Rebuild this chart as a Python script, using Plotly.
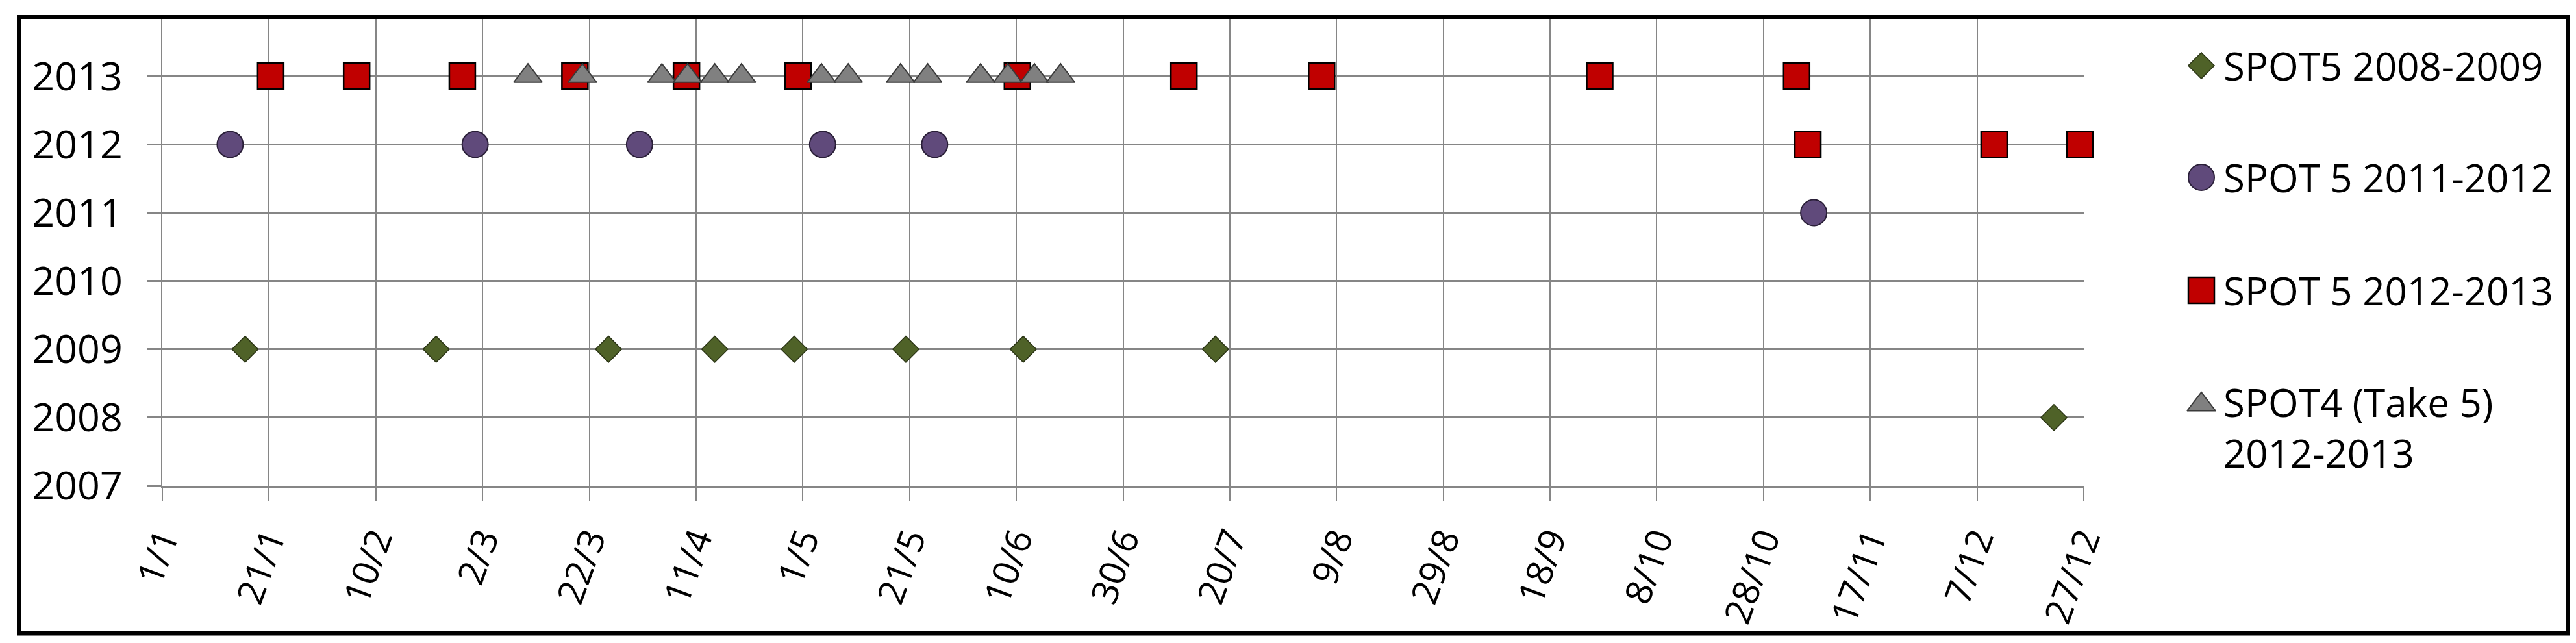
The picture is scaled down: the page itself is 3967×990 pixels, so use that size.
"""
Acquisition dates of SPOT images, by day of year and by year.
"""

import plotly.graph_objs as go

# Day-of-year ticks (non leap year, every 20 days)
tick_days = [1, 21, 41, 61, 81, 101, 121, 141, 161, 181, 201, 221, 241, 261, 281, 301, 321, 341, 361]
tick_labels = ["1/1", "21/1", "10/2", "2/3", "22/3", "11/4", "1/5", "21/5", "10/6", "30/6",
               "20/7", "9/8", "29/8", "18/9", "8/10", "28/10", "17/11", "7/12", "27/12"]
year_ticks = [2007, 2008, 2009, 2010, 2011, 2012, 2013]

# Series: day of year and year of each acquisition
spot5_0809_day = [16.5, 52.3, 84.6, 104.5, 119.4, 140.3, 162.3, 198.3, 355.4]
spot5_0809_year = [2009, 2009, 2009, 2009, 2009, 2009, 2009, 2009, 2008]

spot5_1112_day = [13.7, 59.6, 90.4, 124.7, 145.7, 310.4]
spot5_1112_year = [2012, 2012, 2012, 2012, 2012, 2011]

spot5_1213_day = [21.3, 37.4, 57.2, 78.3, 99.2, 120.1, 161.2, 192.4, 218.2, 270.3, 307.2,
                  309.3, 344.2, 360.3]
spot5_1213_year = [2013, 2013, 2013, 2013, 2013, 2013, 2013, 2013, 2013, 2013, 2013,
                   2012, 2012, 2012]

spot4_day = [69.5, 79.7, 94.6, 99.4, 104.5, 109.5, 124.5, 129.5, 139.3, 144.4, 154.3,
             159.4, 164.4, 169.3]
spot4_year = [2013, 2013, 2013, 2013, 2013, 2013, 2013, 2013, 2013, 2013, 2013,
              2013, 2013, 2013]

series_names = ["SPOT5 2008-2009", "SPOT 5 2011-2012", "SPOT 5 2012-2013",
                "SPOT4 (Take 5)<br>2012-2013"]

W, H = 3967, 990
FONT = "Open Sans"
GRID = "#868686"

styles = [
    dict(symbol="diamond", size=31, color="#4F6228", line=dict(color="#2b3515", width=1.5)),
    dict(symbol="circle", size=40, color="#604A7B", line=dict(color="#2a1f38", width=2)),
    dict(symbol="square", size=40, color="#C00000", line=dict(color="#000000", width=2.5)),
    dict(symbol="triangle-up", size=38, color="#808080", line=dict(color="#3a3a3a", width=2)),
]

data = [
    (spot5_0809_day, spot5_0809_year),
    (spot5_1112_day, spot5_1112_year),
    (spot5_1213_day, spot5_1213_year),
    (spot4_day, spot4_year),
]

fig = go.Figure()

for (days, years), name, st in zip(data, series_names, styles):
    fig.add_trace(go.Scatter(
        x=days, y=years, mode="markers", name=name, showlegend=False,
        marker=st, cliponaxis=False,
    ))

# Hand-made legend (plotly caps legend symbols at 16px)
leg_x = 3382
leg_y = [93, 265, 439, 615]
text_y = [93, 265, 439, 650]
for st, ly in zip(styles, leg_y):
    fig.add_trace(go.Scatter(
        x=[leg_x], y=[ly], mode="markers", marker=st, showlegend=False,
        xaxis="x2", yaxis="y2", hoverinfo="skip",
    ))
for name, ty in zip(series_names, text_y):
    fig.add_annotation(
        x=3414, y=ty, xref="x2", yref="y2", text=name, showarrow=False,
        xanchor="left", yanchor="middle", align="left",
        font=dict(family=FONT, size=60, color="black"),
    )

x0, x1 = 242 / W, 3201 / W
y0, y1 = 1 - 740 / H, 1 - 22 / H

fig.update_layout(
    width=W, height=H,
    margin=dict(l=0, r=0, t=0, b=0),
    paper_bgcolor="white", plot_bgcolor="rgba(0,0,0,0)",
    font=dict(family=FONT, size=60, color="black"),
    xaxis=dict(
        domain=[x0, x1], range=[1, 361], tickvals=tick_days, ticktext=tick_labels,
        tickangle=-70, showgrid=True, gridcolor=GRID, gridwidth=2,
        showline=True, linecolor=GRID, linewidth=2.5,
        ticks="outside", ticklen=20, tickwidth=2, tickcolor=GRID,
        tickfont=dict(family=FONT, size=56), zeroline=False, automargin=False,
        ticklabelstandoff=5,
    ),
    yaxis=dict(
        domain=[y0, y1], range=[2007, 2013.83], tickvals=year_ticks,
        showgrid=True, gridcolor=GRID, gridwidth=2.5,
        showline=True, linecolor=GRID, linewidth=2,
        ticks="outside", ticklen=21, tickwidth=2.5, tickcolor=GRID,
        tickfont=dict(family=FONT, size=61), zeroline=False, automargin=False,
        ticklabelstandoff=26,
    ),
    xaxis2=dict(domain=[0, 1], range=[0, W], visible=False, anchor="y2"),
    yaxis2=dict(domain=[0, 1], range=[H, 0], visible=False, anchor="x2"),
    shapes=[dict(
        type="rect", xref="paper", yref="paper",
        x0=21.5 / W, x1=3946.5 / W, y0=1 - 967 / H, y1=1 - 18.5 / H,
        line=dict(color="black", width=7), fillcolor="rgba(0,0,0,0)", layer="above",
    )],
)

fig.write_html("out.html")
